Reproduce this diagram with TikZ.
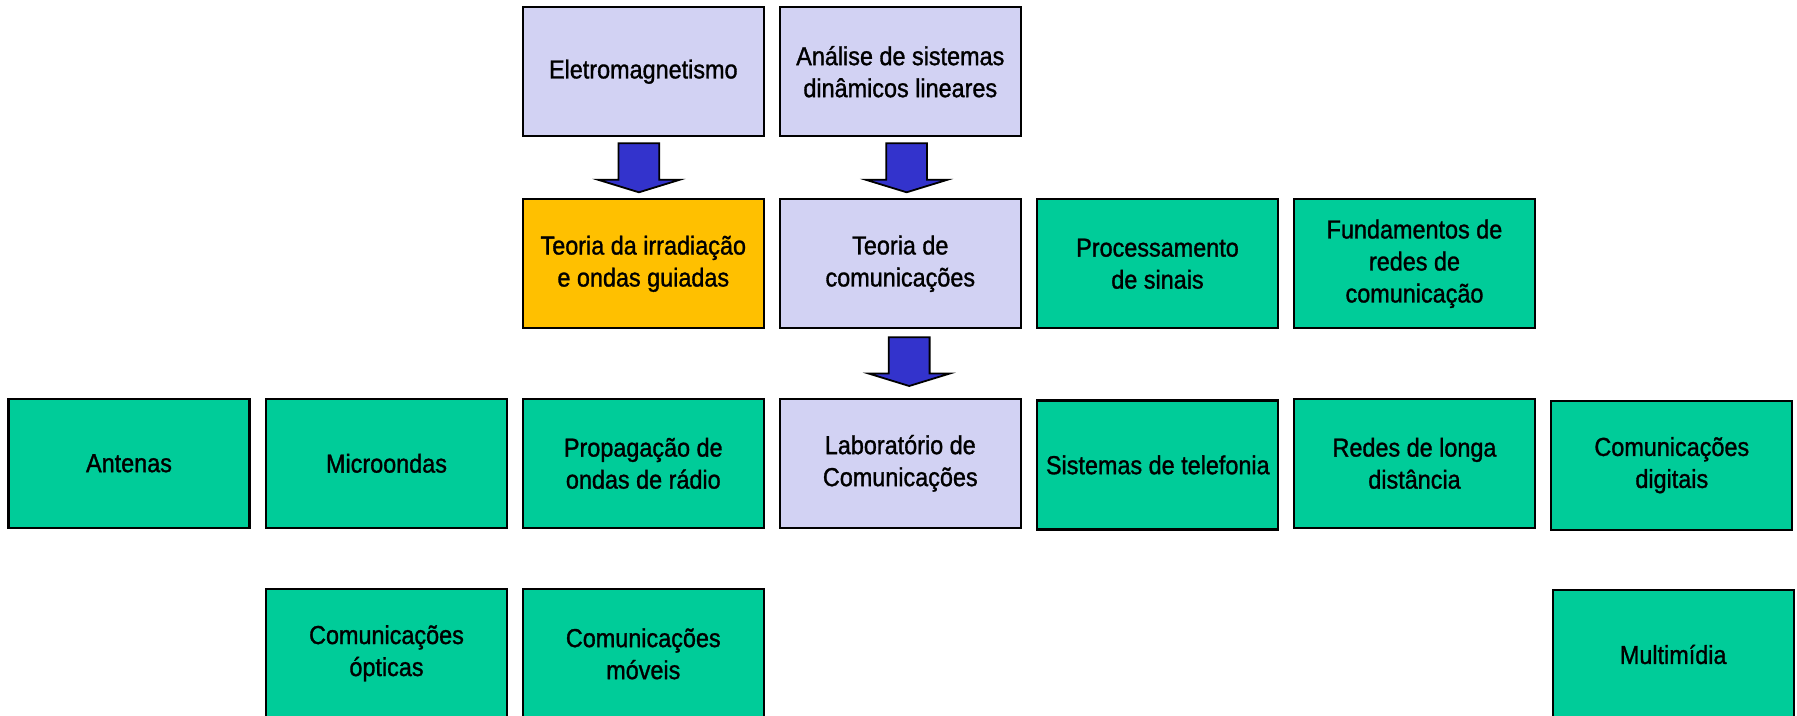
\documentclass[tikz,border=0pt]{standalone}
\usepackage{fontspec}
\setmainfont{Liberation Sans}[FakeStretch=0.9,FakeBold=1.2]
\definecolor{lav}{RGB}{210,210,243}
\definecolor{grn}{RGB}{0,204,153}
\definecolor{org}{RGB}{255,192,0}
\definecolor{arrblue}{RGB}{51,51,204}
\tikzset{
  box/.style={draw=black, line width=1.1pt, minimum width=120.5pt, minimum height=64.5pt,
    inner sep=2pt, align=center, font=\fontsize{13}{16}\selectfont, text=black},
  lavbox/.style={box, fill=lav},
  grnbox/.style={box, fill=grn},
  orgbox/.style={box, fill=org},
  barrow/.style={draw=black, line width=0.9pt, fill=arrblue, line join=miter}
}
\newcommand\blockarr[4]{% name, x centre, y top, y tip
  \coordinate (#1) at (#2,#4);
  \draw[barrow] (#2-20.4,#3) -- (#2+20.4,#3) -- (#2+20.4,#4-12.5) -- (#2+40.7,#4-12.5)
    -- (#1) -- (#2-40.7,#4-12.5) -- (#2-20.4,#4-12.5) -- cycle;}
\begin{document}
\begin{tikzpicture}[x=0.5pt,y=-0.5pt]
\useasboundingbox (0,0) rectangle (1797,716);
\clip (0,0) rectangle (1797,716);
% row 1
\node[lavbox] (eletro) at (643.3,71.7) {Eletromagnetismo};
\node[lavbox] (analise) at (900.3,71.7) {Análise de sistemas\\dinâmicos lineares};
% row 2
\node[orgbox] (teoirr) at (643.3,263.8) {Teoria da irradiação\\e ondas guiadas};
\node[lavbox] (teocom) at (900.3,263.8) {Teoria de\\comunicações};
\node[grnbox] (proc) at (1157.5,263.8) {Processamento\\de sinais};
\node[grnbox] (fund) at (1414.5,263.8) {Fundamentos de\\redes de\\comunicação};
% row 3
\node[grnbox] (antenas) at (129,463.3) {Antenas};
\node[grnbox] (micro) at (386.5,463.3) {Microondas};
\node[grnbox] (prop) at (643.3,463.3) {Propagação de\\ondas de rádio};
\node[lavbox] (lab) at (900.3,463.3) {Laboratório de\\Comunicações};
\node[grnbox] (tel) at (1157.8,464.9) {Sistemas de telefonia};
\node[grnbox] (redes) at (1414.5,463.3) {Redes de longa\\distância};
\node[grnbox] (digit) at (1671.8,465.2) {Comunicações\\digitais};
% row 4
\node[grnbox] (optic) at (386.5,653.3) {Comunicações\\ópticas};
\node[grnbox] (movel) at (643.3,653.8) {Comunicações\\móveis};
\node[grnbox] (multi) at (1673.2,654.5) {Multimídia};
% block arrows
\blockarr{a1}{638.9}{143.3}{192.3}
\blockarr{a2}{906.6}{143.3}{192.3}
\blockarr{a3}{909.2}{337.3}{386}
\end{tikzpicture}
\end{document}
